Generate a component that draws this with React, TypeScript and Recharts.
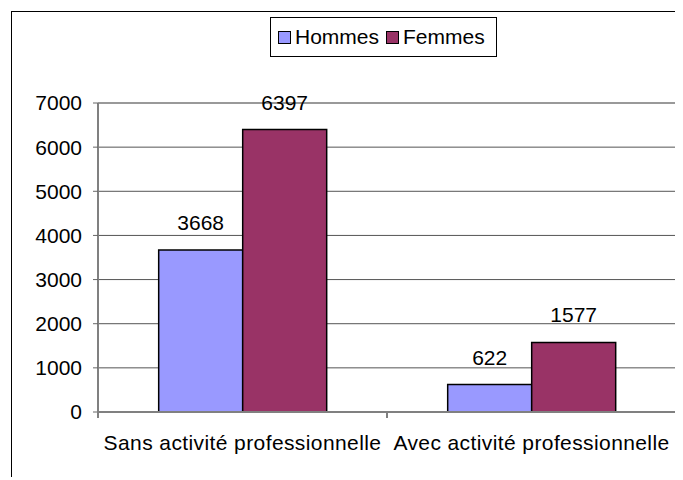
import React from 'react';
import { BarChart, Bar, XAxis, YAxis, CartesianGrid, Legend, LabelList, ReferenceLine } from 'recharts';

const categories = ['Sans activité professionnelle', 'Avec activité professionnelle'];
const hommes = [3668, 622];
const femmes = [6397, 1577];
const yTicks = [0, 1000, 2000, 3000, 4000, 5000, 6000, 7000];
const seriesNames = ['Hommes', 'Femmes'];
const seriesColors = ['#9999ff', '#993366'];

const data = categories.map((c, i) => ({ name: c, Hommes: hommes[i], Femmes: femmes[i] }));

const W = 671;
const H = 468;
const Y_W = 86;
const RIGHT_W = 7;
const PLOT_W = W - Y_W - RIGHT_W;
const FONT = '"Liberation Sans", Arial, sans-serif';

const CategoryTick = (props: any) => {
  const { x, y, payload, index } = props;
  const half = PLOT_W / categories.length / 2;
  return (
    <g>
      {index === 0 && <line x1={x - half} x2={x - half} y1={y - 1} y2={y + 6} stroke="#808080" strokeWidth={2} />}
      <line x1={x + half} x2={x + half} y1={y - 1} y2={y + 6} stroke="#808080" strokeWidth={2} />
      <text x={x} y={y + 38} textAnchor="middle" fill="#000" fontSize={21} fontFamily={FONT} letterSpacing={0.4}>
        {payload.value}
      </text>
    </g>
  );
};

const LegendBox = () => (
  <div
    style={{
      boxSizing: 'border-box',
      width: 227,
      height: 40,
      border: '1px solid #000',
      background: '#fff',
      display: 'flex',
      alignItems: 'center',
      paddingLeft: 7,
      fontFamily: FONT,
      fontSize: 21,
      color: '#000',
    }}
  >
    {seriesNames.map((n, i) => (
      <span key={n} style={{ display: 'flex', alignItems: 'center', marginRight: 7 }}>
        <span
          style={{
            display: 'inline-block',
            boxSizing: 'border-box',
            width: 13,
            height: 13,
            background: seriesColors[i],
            border: '1.5px solid #000',
            marginRight: 4,
          }}
        />
        {n}
      </span>
    ))}
  </div>
);

export default function App() {
  return (
    <div
      style={{
        position: 'relative',
        left: 3,
        top: 3,
        width: 671,
        height: 468,
        borderLeft: '1px solid #000',
        borderTop: '1px solid #000',
      }}
    >
      <BarChart
        width={W}
        height={H}
        data={data}
        margin={{ top: 91, right: 0, bottom: 0, left: 0 }}
        barCategoryGap="21%"
        barGap={0}
      >
        <CartesianGrid vertical={false} stroke="#555" strokeWidth={1} />
        <ReferenceLine y={7000} stroke="#999" strokeWidth={2} />
        <XAxis
          dataKey="name"
          height={68}
          axisLine={{ stroke: '#808080', strokeWidth: 2 }}
          tickLine={false}
          tickSize={0}
          tickMargin={0}
          tick={<CategoryTick />}
          interval={0}
        />
        <YAxis
          width={Y_W}
          domain={[0, 7000]}
          ticks={yTicks}
          interval={0}
          axisLine={{ stroke: '#808080', strokeWidth: 2 }}
          tickLine={{ stroke: '#666' }}
          tickSize={5}
          tickMargin={11}
          tick={{ fill: '#000', fontSize: 21, fontFamily: FONT }}
        />
        <YAxis
          yAxisId="r"
          orientation="right"
          width={RIGHT_W}
          tick={false}
          tickLine={false}
          axisLine={{ stroke: '#999', strokeWidth: 2 }}
        />
        <Legend
          layout="horizontal"
          verticalAlign="middle"
          align="center"
          wrapperStyle={{ top: 5, left: 258, width: 227, height: 40 }}
          content={() => <LegendBox />}
        />
        {seriesNames.map((n, i) => (
          <Bar key={n} dataKey={n} fill={seriesColors[i]} stroke="#000" strokeWidth={1.5} isAnimationActive={false}>
            <LabelList dataKey={n} position="top" offset={20} fill="#000" fontSize={21} fontFamily={FONT} />
          </Bar>
        ))}
      </BarChart>
    </div>
  );
}
